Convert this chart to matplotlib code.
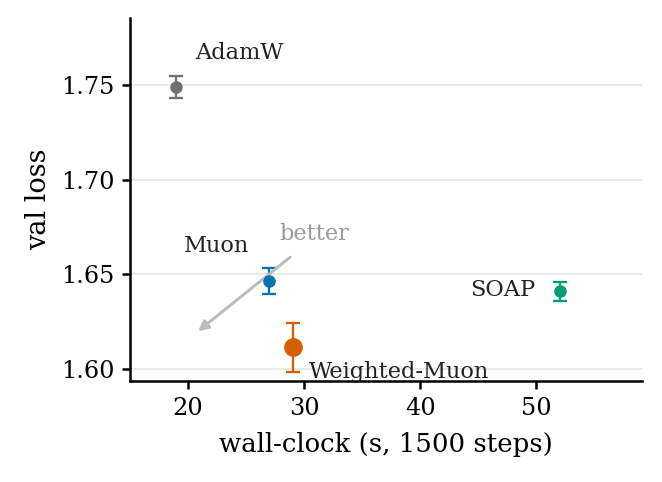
import matplotlib
matplotlib.use("Agg")
import matplotlib.pyplot as plt

# data
names = ["AdamW", "Muon", "Weighted-Muon", "SOAP"]
wall_clock = [19, 27, 29, 52]
val_loss = [1.749, 1.6465, 1.6115, 1.6412]
val_err = [0.006, 0.0068, 0.013, 0.005]
colors = ["#707070", "#0173b2", "#d55e00", "#029e73"]
marker_sizes = [5, 5, 8, 5]

# label placement (data coords) and alignment
label_pos = [(20.6, 1.7669, "left"), (25.3, 1.665, "right"),
             (30.4, 1.5984, "left"), (49.9, 1.6417, "right")]

plt.rcParams["font.family"] = "DejaVu Serif"

fig = plt.figure(figsize=(662 / 150, 482 / 150), dpi=150)
ax = fig.add_axes([130 / 662, 1 - 381 / 482, 512 / 662, 363 / 482])

for x, y, e, c, ms in zip(wall_clock, val_loss, val_err, colors, marker_sizes):
    ax.errorbar(x, y, yerr=e, fmt="o", color=c, ms=ms, capsize=3.5,
                elinewidth=1.1, capthick=1.1, zorder=3)

for name, (tx, ty, ha) in zip(names, label_pos):
    ax.text(tx, ty, name, ha=ha, va="center", fontsize=10.8, color="#222222")

# "better" arrow
ax.annotate("", xy=(20.86, 1.620), xytext=(28.8, 1.6591),
            arrowprops=dict(arrowstyle="-|>", color="#bbbbbb", lw=1.4,
                            mutation_scale=10, shrinkA=0, shrinkB=0))
ax.text(27.9, 1.6715, "better", ha="left", va="center", fontsize=10.8, color="#999999")

ax.set_xlim(15, 59.1)
ax.set_ylim(1.5937, 1.7854)
ax.set_xticks([20, 30, 40, 50])
ax.set_yticks([1.60, 1.65, 1.70, 1.75])
ax.yaxis.grid(True, color="#e5e5e5", lw=0.8)
ax.set_axisbelow(True)
for s in ["top", "right"]:
    ax.spines[s].set_visible(False)
for s in ["left", "bottom"]:
    ax.spines[s].set_linewidth(1.2)
ax.tick_params(labelsize=11.5, width=1.2, length=4)

ax.set_xlabel("wall-clock (s, 1500 steps)", fontsize=12.5, labelpad=6)
ax.set_ylabel("val loss", fontsize=13)

fig.savefig("out.png", dpi=150)
